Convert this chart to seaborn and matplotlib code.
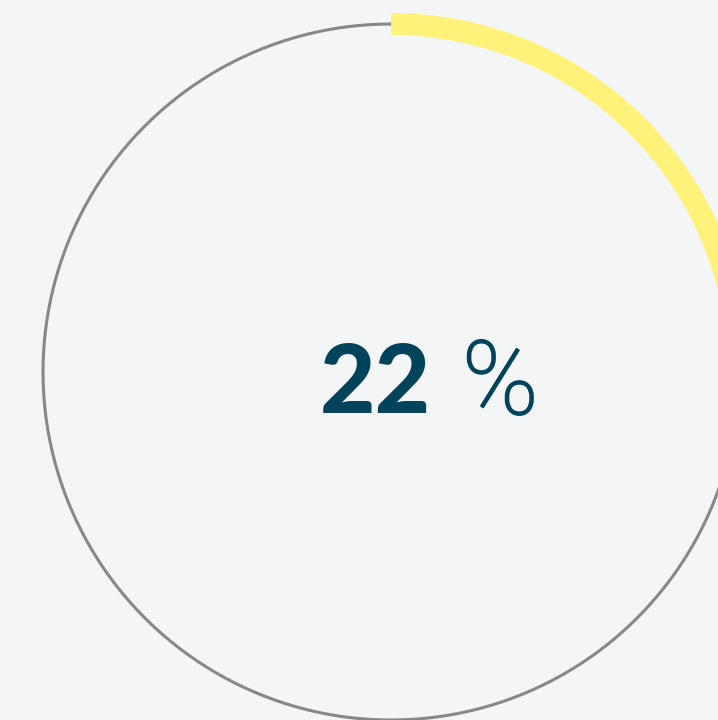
import numpy as np
import pandas as pd
import matplotlib
matplotlib.use("Agg")
import matplotlib.pyplot as plt
import matplotlib.patheffects as pe
import seaborn as sns

# Gauge data
percent_value = 22
value_label = "22"
unit_label = "%"

sns.set_theme(style="white")
bg = "#F4F5F7"
text_color = "#00435A"

fig = plt.figure(figsize=(7.18, 7.2), dpi=100, facecolor=bg)
ax = fig.add_axes([0, 0, 1, 1], facecolor=bg)

cx, cy, r = 391, 372, 348
band = 22


def arc_frame(start_frac, end_frac, radius, n=400):
    # angle measured clockwise from the top
    t = np.linspace(start_frac, end_frac, n) * 2 * np.pi
    return pd.DataFrame({"x": cx + radius * np.sin(t), "y": cy - radius * np.cos(t)})


# grey track
track = arc_frame(0, 1, r)
sns.lineplot(data=track, x="x", y="y", sort=False, ax=ax, color="#88888C",
             linewidth=2.2, estimator=None)

# yellow progress band, drawn filled so it runs cleanly off the canvas edge
outer = arc_frame(0, percent_value / 100, r + band / 2)
inner = arc_frame(0, percent_value / 100, r - band / 2).iloc[::-1]
ring = pd.concat([outer, inner], ignore_index=True)
ax.fill(ring["x"], ring["y"], color="#FFF27B", linewidth=0, zorder=3)

ax.set_xlim(0, 718)
ax.set_ylim(720, 0)
ax.set_axis_off()

ax.text(431, 413, value_label, ha="right", va="baseline", fontsize=69,
        fontweight="black", family=["Lato", "DejaVu Sans"], color=text_color)
ax.text(462, 414, unit_label, ha="left", va="baseline", fontsize=74,
        fontweight="light", family=["Roboto", "DejaVu Sans"], color=text_color,
        path_effects=[pe.withStroke(linewidth=1.3, foreground=text_color)])

fig.savefig("out.png", dpi=100, facecolor=bg)
